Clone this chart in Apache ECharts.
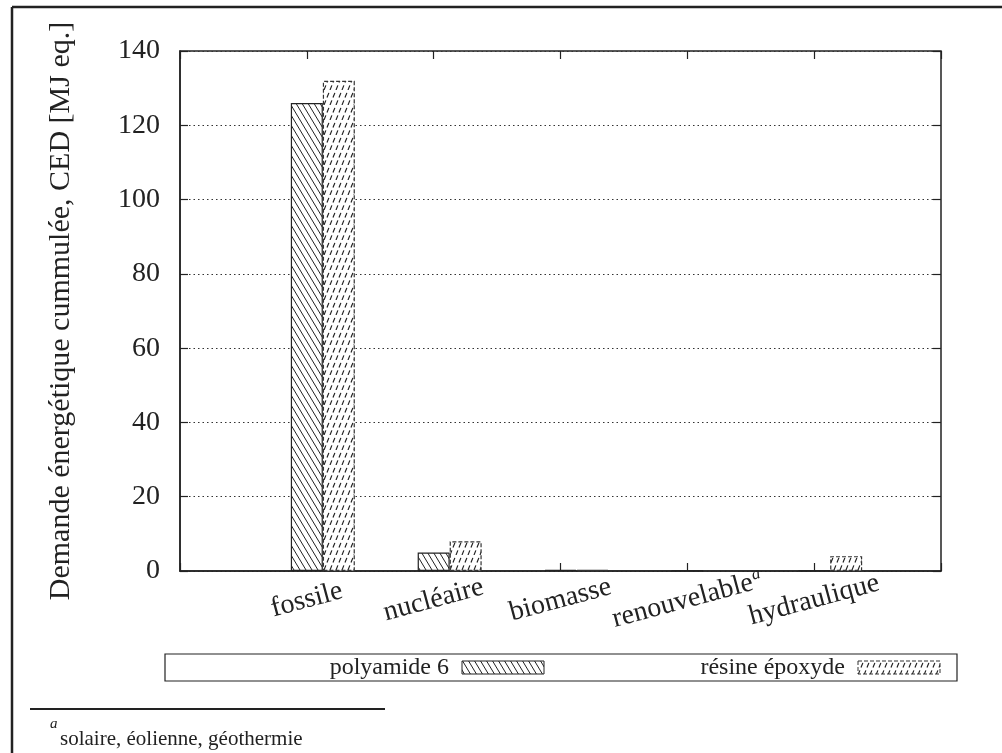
<!DOCTYPE html>
<html><head><meta charset="utf-8">
<script src="https://cdn.jsdelivr.net/npm/echarts@6/dist/echarts.min.js"></script>
<style>html,body{margin:0;padding:0;background:#fff}#c{width:1002px;height:753px}</style>
</head><body><div id="c"></div>
<script>
// ---- data ----
const categories = ['', 'fossile', 'nucléaire', 'biomasse', 'renouvelable', 'hydraulique', ''];
const polyamide6 = [null, 126, 5, 0.3, 0.1, 0.1, null];
const resineEpoxyde = [null, 132, 8, 0.3, 0.1, 4, null];
const seriesNames = ['polyamide 6', 'résine époxyde'];
const yMin = 0, yMax = 140, yInterval = 20;
const yName = 'Demande énergétique cummulée, CED [MJ eq.]';
const footnoteMark = 'a';
const footnoteText = 'solaire, éolienne, géothermie';
const supLabel = 'renouvelable';

const FONT = '"Liberation Serif", "DejaVu Serif", serif';
const INK = '#222';

function hatchPoly() {
  const c = document.createElement('canvas');
  c.width = 12; c.height = 20;
  const g = c.getContext('2d');
  g.fillStyle = '#fff'; g.fillRect(0, 0, 12, 20);
  g.strokeStyle = '#222'; g.lineWidth = 1;
  for (const s of [-12, -6, 0, 6, 12]) {
    g.beginPath(); g.moveTo(s, 0); g.lineTo(s + 12, 20); g.stroke();
  }
  return c;
}
function hatchResine() {
  const c = document.createElement('canvas');
  c.width = 6; c.height = 15;
  const g = c.getContext('2d');
  g.fillStyle = '#fff'; g.fillRect(0, 0, 6, 15);
  g.strokeStyle = '#222'; g.lineWidth = 1.2;
  const L = Math.sqrt(36 + 225);
  g.setLineDash([L / 2 * 0.62, L / 2 * 0.38]);
  for (const s of [-6, 0, 6]) {
    g.beginPath(); g.moveTo(s, 15); g.lineTo(s + 6, 0); g.stroke();
  }
  return c;
}
const polyPat = hatchPoly();
const resPat = hatchResine();

const chart = echarts.init(document.getElementById('c'), null, {renderer: 'canvas'});
const axisFont = {fontFamily: FONT, color: INK};

chart.setOption({
  animation: false,
  backgroundColor: '#fff',
  grid: {left: 180, right: 61, top: 51, bottom: 182, show: true, borderColor: INK, borderWidth: 1.5, backgroundColor: 'transparent'},
  xAxis: [{
    type: 'category', data: categories, boundaryGap: false, position: 'bottom',
    axisLine: {show: true, onZero: false, lineStyle: {color: INK, width: 1.5}},
    axisTick: {show: true, inside: true, length: 8, lineStyle: {color: INK, width: 1.2}},
    splitLine: {show: false},
    axisLabel: {
      ...axisFont, fontSize: 28, rotate: 15, align: 'center', verticalAlign: 'middle', margin: 29, interval: 0,
      formatter: v => v === supLabel ? v + '{sup|' + footnoteMark + '}' : v,
      rich: {sup: {fontFamily: FONT, fontSize: 17, fontStyle: 'italic', color: INK, verticalAlign: 'top', padding: [0, 0, 14, 1]}}
    }
  }, {
    type: 'category', data: categories, boundaryGap: false, position: 'top',
    axisLine: {show: false, onZero: false},
    axisTick: {show: true, inside: true, length: 8, lineStyle: {color: INK, width: 1.2}},
    axisLabel: {show: false}
  }],
  yAxis: [{
    type: 'value', min: yMin, max: yMax, interval: yInterval,
    name: yName, nameLocation: 'middle', nameRotate: 90, nameGap: 104,
    nameTextStyle: {...axisFont, fontSize: 30},
    axisLine: {show: true, onZero: false, lineStyle: {color: INK, width: 1.5}},
    axisTick: {show: true, inside: true, length: 8, lineStyle: {color: INK, width: 1.2}},
    axisLabel: {...axisFont, fontSize: 28, margin: 20},
    splitLine: {show: true, lineStyle: {color: '#333', width: 1, type: [1.5, 3]}}
  }, {
    type: 'value', min: yMin, max: yMax, interval: yInterval, position: 'right',
    axisLine: {show: false, onZero: false},
    axisTick: {show: true, inside: true, length: 8, lineStyle: {color: INK, width: 1.2}},
    axisLabel: {show: false}, splitLine: {show: false}
  }],
  series: [
    {type: 'bar', name: '_spacer', data: categories.map(() => null), barWidth: 32, barGap: '0%', silent: true},
    {type: 'bar', name: seriesNames[0], data: polyamide6, barWidth: 32, barGap: '0%',
      itemStyle: {color: {image: polyPat, repeat: 'repeat'}, borderColor: INK, borderWidth: 1.2}},
    {type: 'bar', name: seriesNames[1], data: resineEpoxyde, barWidth: 32, barGap: '0%',
      itemStyle: {color: {image: resPat, repeat: 'repeat'}, borderColor: '#333', borderWidth: 1.2, borderType: [4, 2]}}
  ],
  graphic: [
    {type: 'line', shape: {x1: 12, y1: 7, x2: 1002, y2: 7}, style: {stroke: INK, lineWidth: 2.5}},
    {type: 'line', shape: {x1: 12, y1: 7, x2: 12, y2: 753}, style: {stroke: INK, lineWidth: 2.5}},
    {type: 'rect', shape: {x: 165, y: 654, width: 792, height: 27}, style: {fill: 'none', stroke: INK, lineWidth: 1.2}},
    {type: 'text', style: {text: seriesNames[0], x: 449, y: 668, align: 'right', verticalAlign: 'middle', fontFamily: FONT, fontSize: 24, fill: INK}},
    {type: 'rect', shape: {x: 462, y: 661, width: 82, height: 13}, style: {fill: {image: polyPat, repeat: 'repeat'}, stroke: INK, lineWidth: 1}},
    {type: 'text', style: {text: seriesNames[1], x: 845, y: 668, align: 'right', verticalAlign: 'middle', fontFamily: FONT, fontSize: 24, fill: INK}},
    {type: 'rect', shape: {x: 858, y: 661, width: 82, height: 13}, style: {fill: {image: resPat, repeat: 'repeat'}, stroke: '#333', lineWidth: 1, lineDash: [4, 2]}},
    {type: 'line', shape: {x1: 30, y1: 709, x2: 385, y2: 709}, style: {stroke: INK, lineWidth: 2}},
    {type: 'text', style: {text: footnoteMark, x: 50, y: 724, align: 'left', verticalAlign: 'middle', fontFamily: FONT, fontSize: 15, fontStyle: 'italic', fill: INK}},
    {type: 'text', style: {text: footnoteText, x: 60, y: 739, align: 'left', verticalAlign: 'middle', fontFamily: FONT, fontSize: 21, fill: INK}}
  ]
});
</script>
</body></html>
